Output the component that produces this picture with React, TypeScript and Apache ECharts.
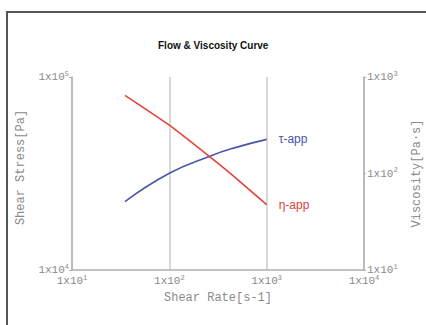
import React, { useEffect, useRef } from "react";
import * as echarts from "echarts";

const shearRate = [35, 100, 265, 457, 1000];
const shearStress = [22600, 31700, 39000, 42800, 47500];
const viscosity = [646, 317, 147, 94, 47.5];

const titleText = "Flow & Viscosity Curve";
const xName = "Shear Rate[s-1]";
const yLeftName = "Shear Stress[Pa]";
const yRightName = "Viscosity[Pa·s]";
const tauLabel = "τ-app";
const etaLabel = "η-app";

const MONO = "'Liberation Mono', 'DejaVu Sans Mono', monospace";
const SANS = "'Liberation Sans', Arial, sans-serif";

const fmt = (v: number) => {
  const e = Math.round(Math.log10(v));
  return `{b|1x10}{s|${e}}`;
};

const rich = {
  b: { fontFamily: MONO, fontSize: 11, color: "#8a8a8a" },
  s: { fontFamily: MONO, fontSize: 7, color: "#8a8a8a", padding: [0, 0, 7, 0] },
};

export default function App() {
  const ref = useRef<HTMLDivElement>(null);
  useEffect(() => {
    if (!ref.current) return;
    const chart = echarts.init(ref.current, null, { renderer: "svg" });
    chart.setOption({
      animation: false,
      backgroundColor: "#fff",
      title: {
        text: titleText,
        left: 153,
        top: 35,
        textStyle: { fontFamily: SANS, fontSize: 10, fontWeight: "bold", color: "#111" },
      },
      graphic: [
        {
          type: "rect",
          shape: { x: 7, y: 12, width: 440, height: 340 },
          style: { fill: "none", stroke: "#555", lineWidth: 2 },
          silent: true,
        },
      ],
      grid: { left: 72, right: 62, top: 77, bottom: 55, containLabel: false, outerBoundsMode: "none" },
      xAxis: {
        type: "log",
        logBase: 10,
        min: 10,
        max: 10000,
        name: xName,
        nameLocation: "middle",
        nameGap: 22,
        nameTextStyle: { fontFamily: MONO, fontSize: 12, color: "#8a8a8a" },
        axisLine: { lineStyle: { color: "#b0b0b0", width: 1.5 } },
        axisTick: { show: false },
        minorTick: { show: false },
        axisLabel: { formatter: fmt, rich, margin: 4 },
        splitLine: { show: true, lineStyle: { color: "#cccccc", width: 1.5 } },
      },
      yAxis: [
        {
          type: "log",
          logBase: 10,
          min: 10000,
          max: 100000,
          position: "left",
          name: yLeftName,
          nameLocation: "middle",
          nameGap: 43,
          nameTextStyle: { fontFamily: MONO, fontSize: 12, color: "#8a8a8a", padding: [0, 0, 0, 12] },
          axisLine: { show: true, lineStyle: { color: "#b0b0b0", width: 1.5 } },
          axisTick: { show: true, length: 3, lineStyle: { color: "#b0b0b0" } },
          axisLabel: { formatter: fmt, rich, margin: 3 },
          splitLine: { show: false },
        },
        {
          type: "log",
          logBase: 10,
          min: 10,
          max: 1000,
          position: "right",
          name: yRightName,
          nameLocation: "middle",
          nameGap: 47,
          nameTextStyle: { fontFamily: MONO, fontSize: 12, color: "#8a8a8a" },
          axisLine: { show: true, lineStyle: { color: "#b0b0b0", width: 1.5 } },
          axisTick: { show: true, length: 2, lineStyle: { color: "#b0b0b0" } },
          axisLabel: { formatter: fmt, rich, margin: 3 },
          splitLine: { show: false },
        },
      ],
      series: [
        {
          type: "line",
          yAxisIndex: 0,
          data: shearRate.map((x, i) => [x, shearStress[i]]),
          smooth: true,
          showSymbol: false,
          lineStyle: { color: "#4b56a8", width: 1.6 },
          endLabel: {
            show: true,
            formatter: tauLabel,
            color: "#4b56a8",
            fontFamily: SANS,
            fontSize: 12,
            distance: 12,
          },
        },
        {
          type: "line",
          yAxisIndex: 1,
          data: shearRate.map((x, i) => [x, viscosity[i]]),
          smooth: 0.15,
          showSymbol: false,
          lineStyle: { color: "#e2433b", width: 1.6 },
          endLabel: {
            show: true,
            formatter: etaLabel,
            color: "#e2433b",
            fontFamily: SANS,
            fontSize: 12,
            distance: 12,
          },
        },
      ],
    });
    return () => chart.dispose();
  }, []);
  return (
    <div
      ref={ref}
      style={{ position: "fixed", left: 0, top: 0, width: 426, height: 325 }}
    />
  );
}
